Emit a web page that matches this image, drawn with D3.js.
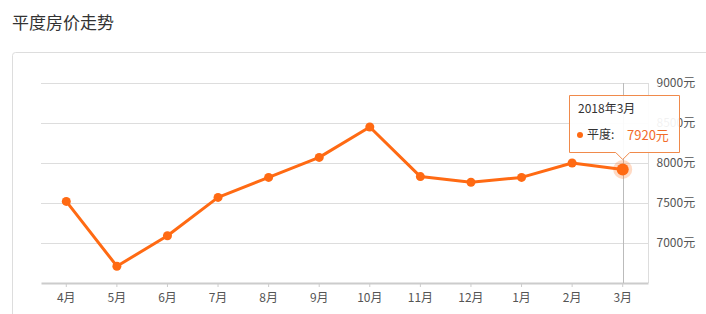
<!DOCTYPE html>
<html>
<head>
<meta charset="utf-8">
<script src="https://cdn.jsdelivr.net/npm/d3@7"></script>
<style>
  body { margin: 0; background: #fff; font-family: "Noto Sans CJK SC", "Noto Sans", sans-serif; }
  svg { display: block; }
</style>
</head>
<body>
<svg id="canvas"></svg>
<script>
var months = ["4月", "5月", "6月", "7月", "8月", "9月", "10月", "11月", "12月", "1月", "2月", "3月"];
var prices = [7520, 6710, 7090, 7570, 7820, 8070, 8450, 7830, 7760, 7820, 8000, 7920];
var yTicks = [7000, 7500, 8000, 8500, 9000];
var seriesName = "平度";
var tipTitle = "2018年3月";

var w = 706, h = 314;
var orange = "#ff6a13";

// ########## SVG ##########
var svg = d3.select("#canvas").attr("width", w).attr("height", h);

svg.append("text")
    .attr("x", 12).attr("y", 29)
    .attr("font-size", 17).attr("fill", "#333")
    .text("平度房价走势");

svg.append("rect")
    .attr("x", 12.5).attr("y", 52.5)
    .attr("width", 720).attr("height", 300)
    .attr("rx", 3)
    .attr("fill", "#fff").attr("stroke", "#ddd");

// ########## Scales ##########
var x = d3.scaleBand().domain(months).range([41, 648]);
var y = d3.scaleLinear().domain([6500, 9000]).range([283, 83]);
var cx = function (d) { return x(d) + x.bandwidth() / 2; };

// grid
svg.selectAll(".grid")
    .data(yTicks).enter()
    .append("line")
    .attr("x1", 41).attr("x2", 648)
    .attr("y1", function (d) { return Math.round(y(d)) + 0.5; })
    .attr("y2", function (d) { return Math.round(y(d)) + 0.5; })
    .attr("stroke", "#ddd");

// right axis
var yAxis = svg.append("g")
    .attr("transform", "translate(648.5,0)")
    .call(d3.axisRight(y).tickValues(yTicks).tickSize(0).tickPadding(8)
        .tickFormat(function (d) { return d + "元"; }));
yAxis.select(".domain").attr("stroke", "#ddd").attr("d", "M0," + y(9000) + "V" + y(6500));
yAxis.selectAll("text").attr("font-size", 12).attr("fill", "#555")
    .attr("font-family", "Noto Sans CJK SC");

// bottom axis
var xAxis = svg.append("g")
    .attr("transform", "translate(0,283)")
    .call(d3.axisBottom(x).tickSizeInner(4).tickSizeOuter(0).tickPadding(6));
xAxis.select(".domain").attr("stroke", "#ccc").attr("stroke-width", 2);
xAxis.selectAll(".tick line").attr("stroke", "#ccc");
xAxis.selectAll("text").attr("font-size", 12).attr("fill", "#555")
    .attr("font-family", "Noto Sans CJK SC");

// crosshair at last point
var last = months.length - 1;
svg.append("line")
    .attr("x1", Math.round(cx(months[last])) + 0.5).attr("x2", Math.round(cx(months[last])) + 0.5)
    .attr("y1", y(9000)).attr("y2", 283)
    .attr("stroke", "#bbb");

// ########## Line and points ##########
var line = d3.line()
    .x(function (d, i) { return cx(months[i]); })
    .y(function (d) { return y(d); });

svg.append("path")
    .datum(prices)
    .attr("d", line)
    .attr("fill", "none")
    .attr("stroke", orange)
    .attr("stroke-width", 3)
    .attr("stroke-linejoin", "round");

svg.selectAll(".pt")
    .data(prices).enter()
    .append("circle")
    .attr("cx", function (d, i) { return cx(months[i]); })
    .attr("cy", function (d) { return y(d); })
    .attr("r", 4.5)
    .attr("fill", orange);

// highlighted point
var lx = cx(months[last]), ly = y(prices[last]);
svg.append("circle").attr("cx", lx).attr("cy", ly).attr("r", 9.5)
    .attr("fill", orange).attr("opacity", 0.25);
svg.append("circle").attr("cx", lx).attr("cy", ly).attr("r", 6)
    .attr("fill", orange);

// ########## Tooltip ##########
var tx = 569.5, ty = 95.5, tw = 110, th = 57;
var tip = svg.append("g");
tip.append("path")
    .attr("d", "M" + tx + "," + ty + "h" + tw + "v" + th +
        "H" + (lx + 7) + "l-7,7l-7,-7H" + tx + "Z")
    .attr("fill", "rgba(255,255,255,0.92)")
    .attr("stroke", "#f08a4b");
tip.append("text")
    .attr("x", 578).attr("y", 113)
    .attr("font-size", 12).attr("fill", "#333")
    .text(tipTitle);
tip.append("circle").attr("cx", 580).attr("cy", 135).attr("r", 3).attr("fill", orange);
tip.append("text")
    .attr("x", 587).attr("y", 139)
    .attr("font-size", 12).attr("fill", "#333")
    .text(seriesName + ":");
tip.append("text")
    .attr("x", 627).attr("y", 140)
    .attr("font-size", 13).attr("fill", "#f26b2a")
    .text(prices[last] + "元");
</script>
</body>
</html>
